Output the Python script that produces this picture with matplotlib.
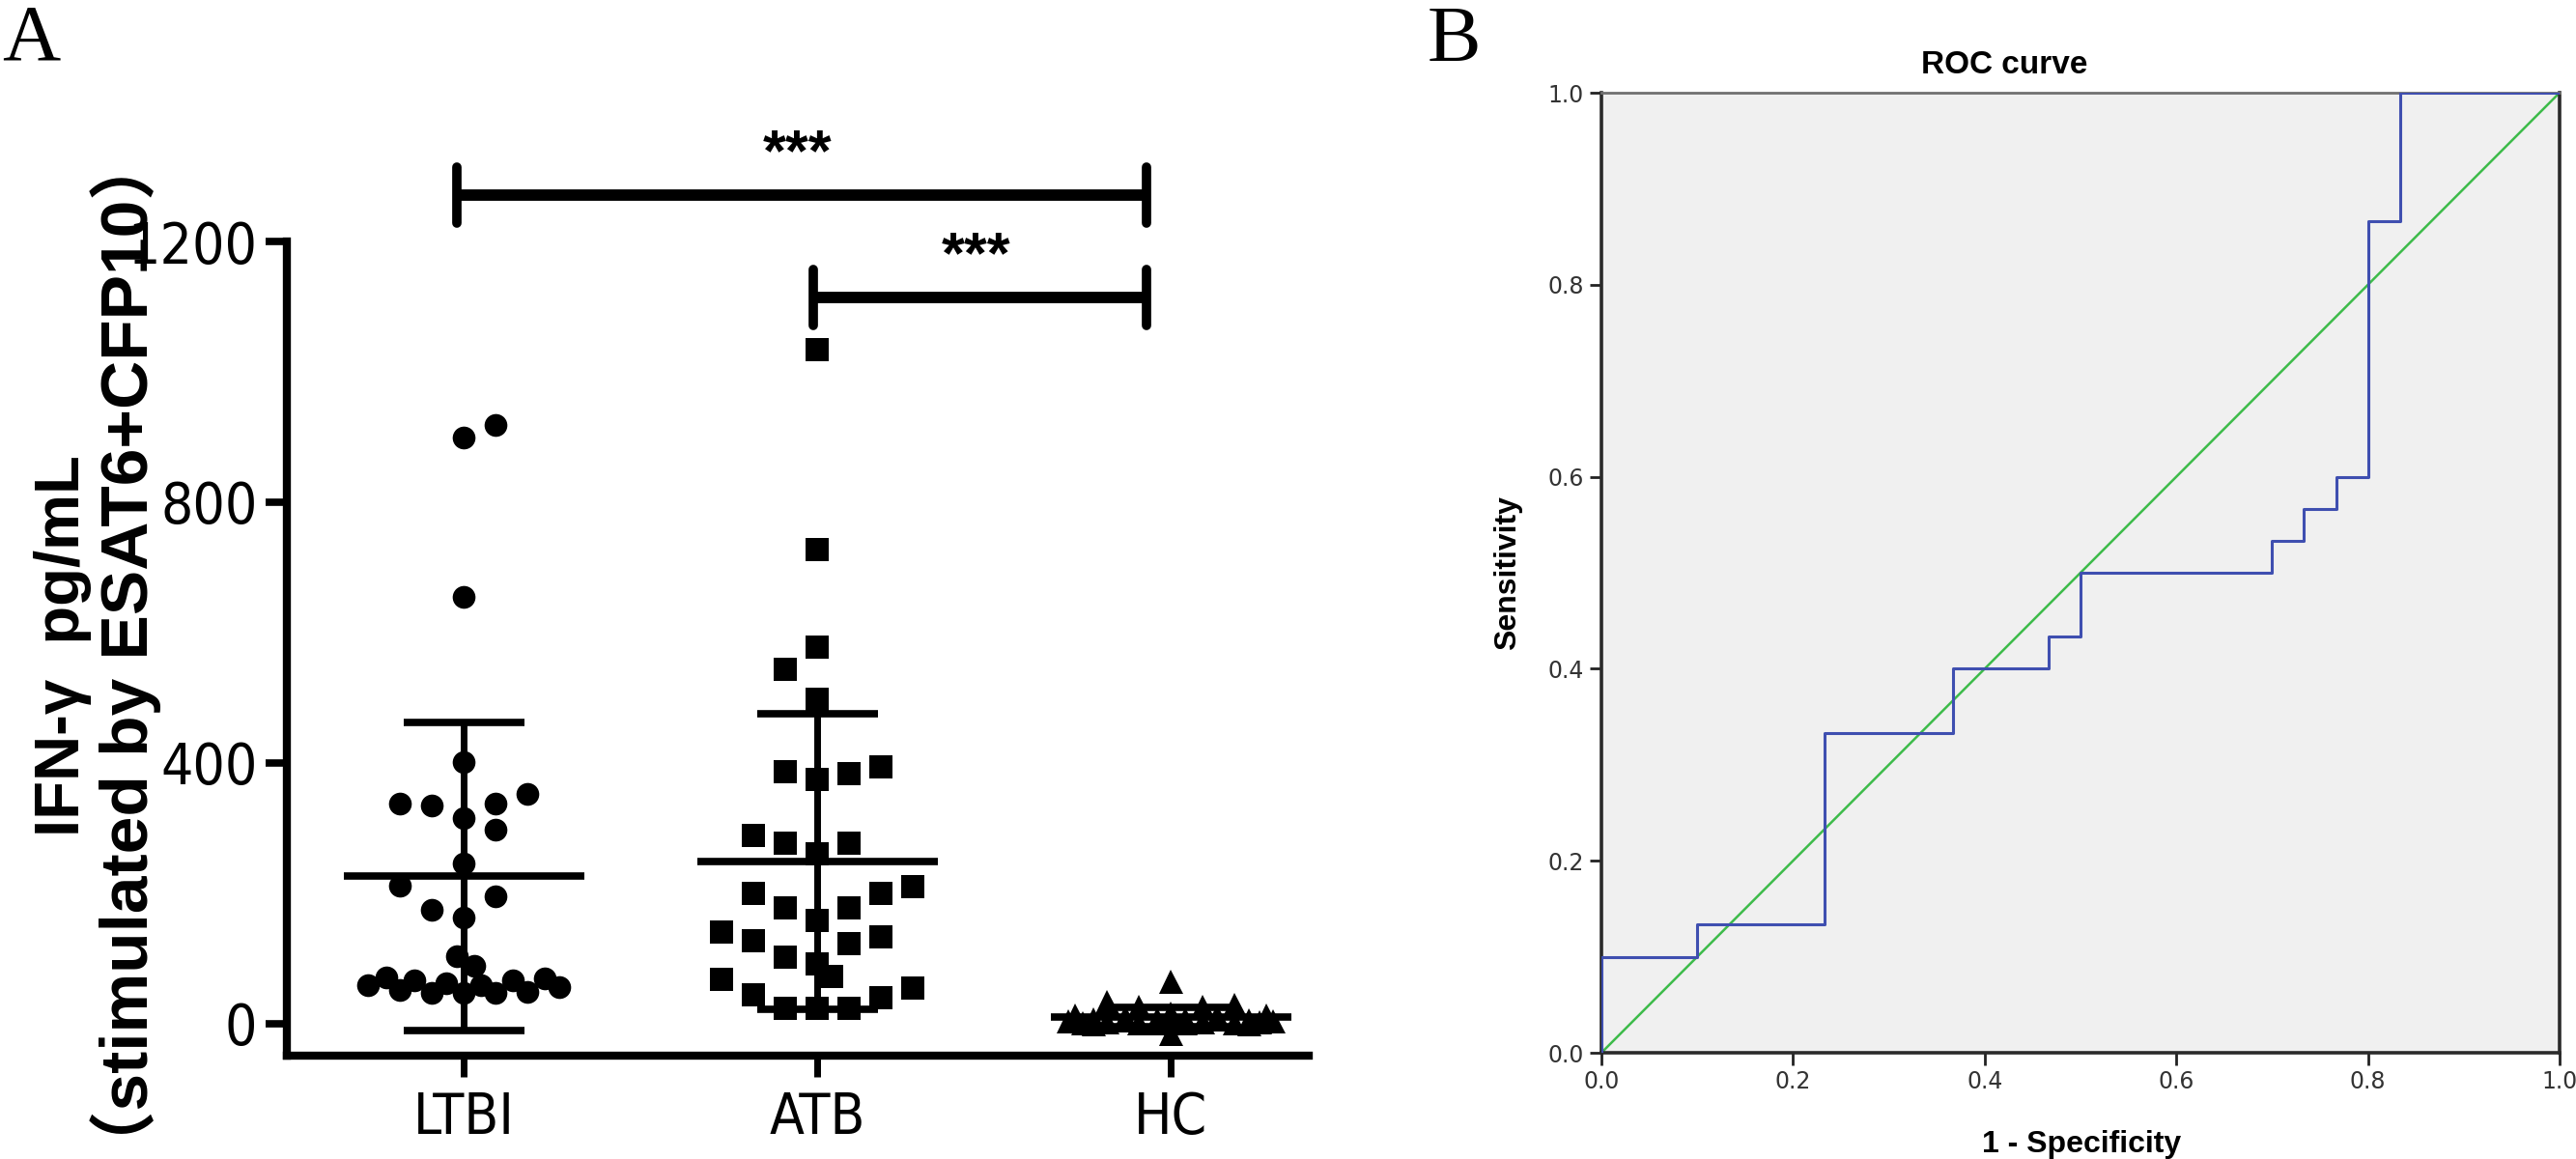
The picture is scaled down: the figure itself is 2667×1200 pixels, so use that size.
import numpy as np
import matplotlib
matplotlib.use("Agg")
import matplotlib.pyplot as plt

# ---- data (panel A) ----
groups = ["LTBI", "ATB", "HC"]

ltbi_values = [918, 899, 655,
               401, 338, 335, 316, 338, 353, 298, 246, 212, 175, 196, 163,
               104, 89,
               59, 71, 52, 67, 47, 62, 47, 59, 47, 67, 49, 70, 56]
atb_values = [1034, 727, 578, 544, 498,
              387, 375, 384, 394,
              289, 277, 261, 277,
              200, 178, 158, 178, 200, 210,
              141, 127, 102, 92, 123, 133,
              73, 68, 44, 24, 24, 24, 40, 55]
hc_values = [65, 34, 27, 16, 27, 30, 13, 0, 0, 13, -15,
             5, 2, 8, 3, 6, 2, 8, 4, 7, 3, 8, 2, 6, 3, 5, 10, 12, 1, 1]

# horizontal scatter layout of the points (category units)
ltbi_jitter = [0.09, 0.0, 0.0,
               0.0, -0.18, -0.09, 0.0, 0.09, 0.18, 0.09, 0.0, -0.18, -0.09, 0.09, 0.0,
               -0.02, 0.03,
               -0.27, -0.22, -0.18, -0.14, -0.09, -0.05, 0.0, 0.05, 0.09, 0.14, 0.18, 0.23, 0.27]
atb_jitter = [0.0, 0.0, 0.0, -0.09, 0.0,
              -0.09, 0.0, 0.09, 0.18,
              -0.18, -0.09, 0.0, 0.09,
              -0.18, -0.09, 0.0, 0.09, 0.18, 0.27,
              -0.27, -0.18, -0.09, 0.0, 0.09, 0.18,
              0.04, -0.27, -0.18, -0.09, 0.0, 0.09, 0.18, 0.27]
hc_jitter = [0.0, -0.18, -0.09, 0.0, 0.09, 0.18, -0.27, -0.22, 0.22, 0.27, 0.0,
             -0.29, -0.25, -0.22, -0.18, -0.13, -0.09, -0.04, 0.0, 0.04, 0.09,
             0.13, 0.18, 0.22, 0.25, 0.29, -0.13, 0.13, -0.04, 0.04]

# significance brackets: (start, end, height, label)
sig_pairs = [(0.98, 2.93, 1271, "***"), (1.99, 2.93, 1114, "***")]

# ---- data (panel B, ROC) ----
fpr = [0.0, 0.0, 0.1, 0.2333, 0.3667, 0.4667, 0.5, 0.7, 0.7333, 0.7667, 0.8, 0.8333, 1.0]
tpr = [0.0, 0.1, 0.1333, 0.3333, 0.4, 0.4333, 0.5, 0.5333, 0.5667, 0.6, 0.8667, 1.0, 1.0]

W, H = 2667, 1200
fig = plt.figure(figsize=(W / 100, H / 100), dpi=100)

bold_font = ["Liberation Sans", "Noto Sans CJK SC", "DejaVu Sans"]

# ================= panel A =================
ax = fig.add_axes([297 / W, 107 / H, (1355 - 297) / W, (1093 - 250) / H])
ax.set_xlim(0.5, 3.39)
ax.set_ylim(-49, 1200)

series = [(ltbi_values, ltbi_jitter, "o", 17),
          (atb_values, atb_jitter, "s", 17),
          (hc_values, hc_jitter, "^", 18)]
for i, (vals, jit, mk, ms) in enumerate(series):
    pos = i + 1
    vals = np.array(vals, dtype=float)
    ax.plot(pos + np.array(jit), vals, linestyle="none", marker=mk,
            markersize=ms, color="black", markeredgewidth=0, zorder=3)
    m = vals.mean()
    sd = vals.std(ddof=1)
    ax.plot([pos - 0.34, pos + 0.34], [m, m], color="black", lw=5.5,
            solid_capstyle="butt", zorder=4)
    ax.errorbar([pos], [m], yerr=[sd], fmt="none", ecolor="black",
                elinewidth=5, capsize=45, capthick=5.5, zorder=4)

for x0, x1, y, lab in sig_pairs:
    ax.plot([x0, x1], [y, y], color="black", lw=8.5, clip_on=False,
            solid_capstyle="butt")
    for xc in (x0, x1):
        ax.plot([xc, xc], [y - 43, y + 43], color="black", lw=7,
                clip_on=False, solid_capstyle="round")
    ax.text((x0 + x1) / 2 - 0.01, y + 62, lab, ha="center", va="center",
            fontsize=44, fontweight="bold", family=bold_font, clip_on=False)

for s in ("top", "right"):
    ax.spines[s].set_visible(False)
for s in ("left", "bottom"):
    ax.spines[s].set_linewidth(6)
ax.set_yticks([0, 400, 800, 1200])
ax.set_xticks([1, 2, 3])
ax.set_xticklabels(groups)
ax.tick_params(axis="y", length=16, width=5.5, pad=6, labelsize=42)
ax.tick_params(axis="x", length=16, width=5, pad=10, labelsize=42)
for t in ax.get_xticklabels() + ax.get_yticklabels():
    t.set_family("DejaVu Sans")
    t.set_fontstretch("condensed")

fig.text(82 / W, 1 - 669 / H, "IFN-γ  pg/mL", rotation=90, rotation_mode="anchor",
         ha="center", va="baseline", fontsize=47, fontweight="bold", family=bold_font)
fig.text(153 / W, 1 - 678 / H, "（stimulated by ESAT6+CFP10）", rotation=90,
         rotation_mode="anchor", ha="center", va="baseline", fontsize=50,
         fontweight="bold", family=bold_font)

fig.text(2 / W, 1 - 62 / H, "A", fontsize=60, family="Liberation Serif",
         ha="left", va="baseline")
fig.text(1478 / W, 1 - 63 / H, "B", fontsize=60, family="Liberation Serif",
         ha="left", va="baseline")

# ================= panel B =================
ax2 = fig.add_axes([1658 / W, 110 / H, (2650 - 1658) / W, (1090 - 96) / H])
ax2.set_facecolor("#f0f0f0")
ax2.plot([0, 1], [0, 1], color="#3dbb4a", lw=1.8, zorder=2)
ax2.plot(fpr, tpr, drawstyle="steps-post", color="#3f4fb0", lw=2.2, zorder=3)
ax2.set_xlim(0, 1)
ax2.set_ylim(0, 1)
ticks = [0.0, 0.2, 0.4, 0.6, 0.8, 1.0]
ax2.set_xticks(ticks)
ax2.set_yticks(ticks)
ax2.set_xticklabels([f"{t:.1f}" for t in ticks])
ax2.set_yticklabels([f"{t:.1f}" for t in ticks])
ax2.tick_params(length=9, width=2, color="#222222", labelsize=17,
                labelcolor="#333333", pad=4)
for s in ("left", "bottom", "right"):
    ax2.spines[s].set_color("#2a2a2a")
    ax2.spines[s].set_linewidth(2.6)
ax2.spines["top"].set_color("#707070")
ax2.spines["top"].set_linewidth(2)

fig.text(2075 / W, 1 - 68 / H, "ROC curve", ha="center", va="center",
         fontsize=24, fontweight="bold", family=bold_font)
fig.text(2155 / W, 1 - 1185 / H, "1 - Specificity", ha="center", va="center",
         fontsize=23, fontweight="bold", family=bold_font)
fig.text(1561 / W, 1 - 593 / H, "Sensitivity", ha="center", va="center",
         rotation=90, fontsize=23, fontweight="bold", family=bold_font)

fig.savefig("out.png", dpi=100)
